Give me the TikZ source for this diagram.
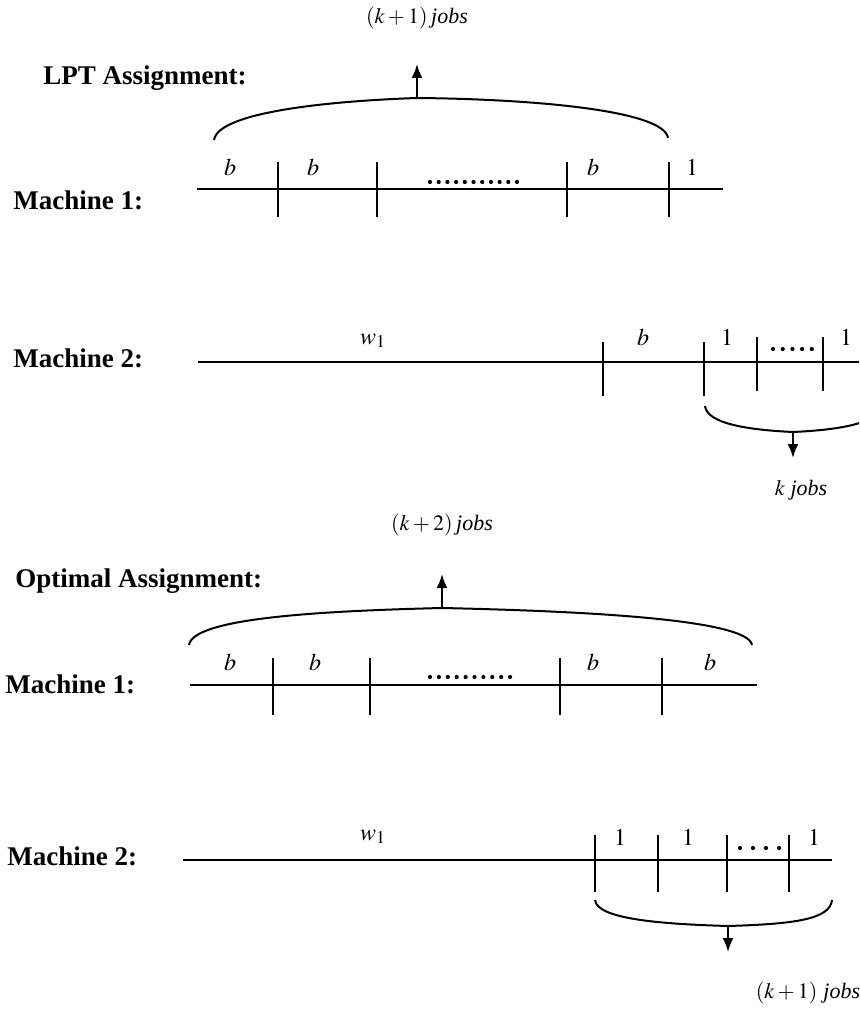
\documentclass[tikz,border=0pt]{standalone}
\usepackage{mathptmx}
\usepackage{fontspec}
\setmainfont{Liberation Serif}
\usetikzlibrary{arrows.meta}

\begin{document}
\begin{tikzpicture}[x=0.5pt,y=-0.5pt,
  every node/.style={font=\fontsize{11}{13}\selectfont,inner sep=0pt},
  head/.style={font=\fontsize{13.5}{16}\selectfont\bfseries,anchor=base west},
  lbl/.style={anchor=base,font=\fontsize{12}{14}\selectfont},
  axis/.style={line width=0.9pt},
  tick/.style={line width=1.2pt},
  brace/.style={line width=1pt},
  arr/.style={line width=1pt,-{Latex[length=7pt,width=5.5pt]}}]
\clip (0,0) rectangle (859,1010);
% LPT assignment
\node[head] (lptHead) at (43,85) {LPT Assignment:};
\node[anchor=base] (lptCount) at (417,24) {$(k+1)$\,\textit{jobs}};
\draw[brace] (214,140) .. controls (218,112) and (330,101) .. (417,98)
  .. controls (530,99) and (664,110) .. (668,138);
\coordinate (lptTop) at (417,98);
\coordinate (lptTip) at (417,64);
\draw[arr] (lptTop) -- (lptTip);
% machine 1
\node[head] (lptMa) at (13,210) {Machine 1:};
\draw[axis] (197,189) -- (723,189);
\foreach \x in {278,377,567,669} \draw[tick] (\x,162) -- (\x,217);
\foreach \x/\t [count=\n] in {230/b,313/b,593/b,692/1} \node[lbl] (lptJob\n) at (\x,176) {$\t$};
\foreach \i in {0,...,10} \fill ({430+8.7*\i},182) circle (2.1);
% machine 2
\node[head] (lptMb) at (13,367) {Machine 2:};
\draw[axis] (198,362) -- (859,362);
\foreach \x/\a/\b in {603/342/396,704/342/396,757/337/391,823/337/391} \draw[tick] (\x,\a) -- (\x,\b);
\node[lbl] (lptW) at (373,344) {$w_1$};
\foreach \x/\t [count=\n] in {643/b,727/1,846/1} \node[lbl] (lptLast\n) at (\x,345) {$\t$};
\foreach \i in {0,...,4} \fill ({773+9.7*\i},349) circle (2.1);
\draw[brace] (705,406) .. controls (707,424) and (750,430) .. (793,432)
  .. controls (836,430) and (879,424) .. (881,406);
\coordinate (lptBot) at (793,432);
\coordinate (lptDown) at (793,458);
\draw[arr] (lptBot) -- (lptDown);
\node[anchor=base] (lptKjobs) at (801,495) {$k$ \textit{jobs}};
% Optimal assignment
\node[head] (optHead) at (15,587) {Optimal Assignment:};
\node[anchor=base] (optCount) at (442,530) {$(k+2)$\,\textit{jobs}};
\draw[brace] (189,645) .. controls (193,618) and (320,611) .. (442,608)
  .. controls (580,611) and (748,619) .. (752,645);
\coordinate (optTop) at (442,608);
\coordinate (optTip) at (442,574);
\draw[arr] (optTop) -- (optTip);
% machine 1
\node[head] (optMa) at (5,693) {Machine 1:};
\draw[axis] (190,685) -- (757,685);
\foreach \x in {273,370,560,662} \draw[tick] (\x,658) -- (\x,715);
\foreach \x/\t [count=\n] in {230/b,315/b,593/b,710/b} \node[lbl] (optJob\n) at (\x,670) {$\t$};
\foreach \i in {0,...,9} \fill ({430+8.9*\i},677) circle (2.1);
% machine 2
\node[head] (optMb) at (7,865) {Machine 2:};
\draw[axis] (183,860) -- (832,860);
\foreach \x in {595,658,727,789} \draw[tick] (\x,835) -- (\x,892);
\node[lbl] (optW) at (373,840) {$w_1$};
\foreach \x/\t [count=\n] in {620/1,688/1,814/1} \node[lbl] (optUnit\n) at (\x,845) {$\t$};
\foreach \i in {0,...,3} \fill ({740+13*\i},848) circle (2.1);
\draw[brace] (595,900) .. controls (597,919) and (660,924) .. (728,926)
  .. controls (796,924) and (830,919) .. (832,900);
\coordinate (optBot) at (728,926);
\coordinate (optDown) at (728,952);
\draw[arr] (optBot) -- (optDown);
\node[anchor=base] (optKjobs) at (808,998) {$(k+1)$\;\textit{jobs}};
\end{tikzpicture}
\end{document}
